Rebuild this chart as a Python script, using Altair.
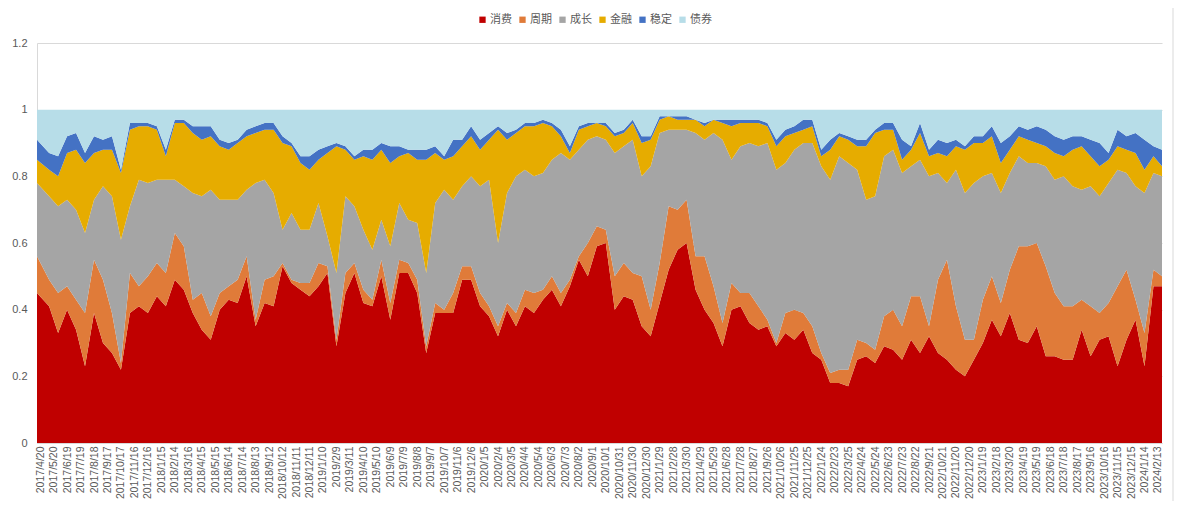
import altair as alt
import pandas as pd

# sampling grid: every 20 days, first and last points at the chart's edges
dates = (["2017/04/13"]
         + [d.strftime("%Y/%m/%d") for d in pd.date_range("2017-04-20", periods=125, freq="20D")][1:]
         + ["2024/02/22"])

series_names = ["消费", "周期", "成长", "金融", "稳定", "债券"]
colors = ["#C00000", "#E07B39", "#A5A5A5", "#E6AC00", "#4472C4", "#B7DDE8"]

consumer = [0.45, 0.41, 0.33, 0.40, 0.34, 0.23, 0.39, 0.30, 0.27, 0.22,
            0.39, 0.41, 0.39, 0.44, 0.41, 0.49, 0.46, 0.39, 0.34, 0.31,
            0.40, 0.43, 0.42, 0.50, 0.35, 0.42, 0.41, 0.53, 0.48, 0.46,
            0.44, 0.47, 0.51, 0.29, 0.45, 0.51, 0.42, 0.41, 0.50, 0.37,
            0.51, 0.51, 0.45, 0.27, 0.39, 0.39, 0.39, 0.49, 0.49, 0.41,
            0.38, 0.32, 0.40, 0.35, 0.41, 0.39, 0.43, 0.46, 0.41, 0.47,
            0.55, 0.50, 0.59, 0.60, 0.40, 0.44, 0.43, 0.35, 0.32, 0.42,
            0.52, 0.58, 0.60, 0.46, 0.40, 0.36, 0.29, 0.40, 0.41, 0.36,
            0.34, 0.35, 0.29, 0.33, 0.31, 0.34, 0.27, 0.25, 0.18, 0.18,
            0.17, 0.25, 0.26, 0.24, 0.29, 0.28, 0.25, 0.31, 0.27, 0.32,
            0.27, 0.25, 0.22, 0.20, 0.25, 0.30, 0.37, 0.32, 0.39, 0.31,
            0.30, 0.35, 0.26, 0.26, 0.25, 0.25, 0.34, 0.26, 0.31, 0.32,
            0.23, 0.31, 0.37, 0.23, 0.47, 0.47]
cyclical = [0.11, 0.08, 0.12, 0.07, 0.09, 0.16, 0.16, 0.19, 0.12, 0.02,
            0.12, 0.06, 0.11, 0.10, 0.10, 0.14, 0.13, 0.04, 0.11, 0.07,
            0.05, 0.04, 0.07, 0.06, 0.02, 0.07, 0.09, 0.01, 0.01, 0.02,
            0.04, 0.07, 0.02, 0.02, 0.06, 0.03, 0.04, 0.02, 0.05, 0.05,
            0.04, 0.03, 0.04, 0.02, 0.03, 0.01, 0.06, 0.04, 0.04, 0.04,
            0.03, 0.03, 0.02, 0.04, 0.05, 0.06, 0.03, 0.04, 0.04, 0.02,
            0.01, 0.10, 0.06, 0.04, 0.10, 0.10, 0.08, 0.15, 0.08, 0.12,
            0.19, 0.12, 0.13, 0.10, 0.16, 0.11, 0.07, 0.08, 0.04, 0.09,
            0.07, 0.02, 0.01, 0.06, 0.09, 0.05, 0.08, 0.02, 0.03, 0.04,
            0.05, 0.06, 0.04, 0.04, 0.09, 0.12, 0.10, 0.13, 0.17, 0.03,
            0.22, 0.30, 0.19, 0.11, 0.06, 0.13, 0.13, 0.10, 0.13, 0.28,
            0.29, 0.25, 0.27, 0.19, 0.16, 0.16, 0.09, 0.15, 0.08, 0.10,
            0.24, 0.21, 0.06, 0.10, 0.05, 0.03]
growth = [0.22, 0.25, 0.26, 0.26, 0.27, 0.24, 0.18, 0.28, 0.35, 0.37,
          0.20, 0.32, 0.28, 0.25, 0.28, 0.16, 0.18, 0.32, 0.29, 0.38,
          0.28, 0.26, 0.24, 0.20, 0.41, 0.30, 0.25, 0.10, 0.20, 0.16,
          0.16, 0.18, 0.09, 0.20, 0.23, 0.17, 0.18, 0.15, 0.12, 0.17,
          0.17, 0.13, 0.17, 0.22, 0.30, 0.36, 0.28, 0.24, 0.27, 0.32,
          0.38, 0.25, 0.33, 0.41, 0.36, 0.35, 0.35, 0.35, 0.42, 0.36,
          0.32, 0.31, 0.27, 0.27, 0.37, 0.35, 0.40, 0.30, 0.43, 0.39,
          0.23, 0.24, 0.21, 0.37, 0.35, 0.46, 0.55, 0.37, 0.44, 0.45,
          0.48, 0.53, 0.52, 0.45, 0.48, 0.51, 0.55, 0.56, 0.58, 0.64,
          0.62, 0.51, 0.43, 0.46, 0.48, 0.48, 0.46, 0.39, 0.41, 0.45,
          0.32, 0.23, 0.41, 0.44, 0.47, 0.37, 0.31, 0.33, 0.29, 0.27,
          0.25, 0.24, 0.30, 0.34, 0.39, 0.36, 0.33, 0.36, 0.35, 0.36,
          0.35, 0.29, 0.34, 0.42, 0.29, 0.30]
financial = [0.07, 0.08, 0.09, 0.14, 0.18, 0.21, 0.14, 0.11, 0.14, 0.20,
             0.23, 0.16, 0.17, 0.15, 0.07, 0.17, 0.19, 0.18, 0.17, 0.16,
             0.16, 0.15, 0.17, 0.16, 0.15, 0.15, 0.19, 0.26, 0.20, 0.20,
             0.18, 0.13, 0.25, 0.38, 0.14, 0.14, 0.22, 0.27, 0.21, 0.25,
             0.14, 0.20, 0.19, 0.34, 0.15, 0.09, 0.13, 0.12, 0.12, 0.11,
             0.12, 0.34, 0.16, 0.13, 0.13, 0.15, 0.15, 0.10, 0.05, 0.02,
             0.06, 0.04, 0.04, 0.04, 0.05, 0.04, 0.05, 0.10, 0.08, 0.04,
             0.04, 0.03, 0.03, 0.04, 0.04, 0.04, 0.05, 0.10, 0.07, 0.06,
             0.07, 0.05, 0.07, 0.08, 0.05, 0.04, 0.05, 0.03, 0.09, 0.06,
             0.07, 0.07, 0.16, 0.19, 0.08, 0.06, 0.04, 0.05, 0.08, 0.06,
             0.06, 0.08, 0.07, 0.13, 0.12, 0.10, 0.11, 0.09, 0.07, 0.06,
             0.07, 0.06, 0.06, 0.08, 0.06, 0.11, 0.13, 0.09, 0.09, 0.07,
             0.07, 0.07, 0.10, 0.07, 0.05, 0.03]
stable = [0.06, 0.05, 0.06, 0.05, 0.05, 0.03, 0.05, 0.03, 0.04, 0.01,
          0.02, 0.01, 0.01, 0.01, 0.02, 0.01, 0.01, 0.02, 0.04, 0.03,
          0.02, 0.02, 0.01, 0.02, 0.02, 0.02, 0.02, 0.02, 0.01, 0.02,
          0.04, 0.03, 0.02, 0.01, 0.01, 0.01, 0.02, 0.03, 0.02, 0.05,
          0.03, 0.01, 0.03, 0.03, 0.02, 0.01, 0.05, 0.02, 0.03, 0.03,
          0.02, 0.01, 0.02, 0.01, 0.01, 0.01, 0.01, 0.01, 0.02, 0.02,
          0.01, 0.01, 0.00, 0.01, 0.01, 0.01, 0.01, 0.02, 0.01, 0.01,
          0.00, 0.01, 0.01, 0.00, 0.01, 0.00, 0.01, 0.02, 0.01, 0.01,
          0.01, 0.01, 0.02, 0.02, 0.02, 0.03, 0.02, 0.02, 0.03, 0.01,
          0.01, 0.02, 0.02, 0.01, 0.02, 0.02, 0.06, 0.01, 0.03, 0.02,
          0.04, 0.04, 0.02, 0.01, 0.02, 0.02, 0.03, 0.06, 0.04, 0.03,
          0.03, 0.05, 0.05, 0.05, 0.05, 0.04, 0.03, 0.05, 0.07, 0.02,
          0.05, 0.04, 0.06, 0.09, 0.03, 0.05]
bond = [0.09, 0.13, 0.14, 0.08, 0.07, 0.13, 0.08, 0.09, 0.08, 0.18,
        0.04, 0.04, 0.04, 0.05, 0.12, 0.03, 0.03, 0.05, 0.05, 0.05,
        0.09, 0.10, 0.09, 0.06, 0.05, 0.04, 0.04, 0.08, 0.10, 0.14,
        0.14, 0.12, 0.11, 0.10, 0.11, 0.14, 0.12, 0.12, 0.10, 0.11,
        0.11, 0.12, 0.12, 0.12, 0.11, 0.14, 0.09, 0.09, 0.05, 0.09,
        0.07, 0.05, 0.07, 0.06, 0.04, 0.04, 0.03, 0.04, 0.06, 0.11,
        0.05, 0.04, 0.04, 0.04, 0.07, 0.06, 0.03, 0.08, 0.08, 0.02,
        0.02, 0.02, 0.02, 0.03, 0.04, 0.03, 0.03, 0.03, 0.03, 0.03,
        0.03, 0.04, 0.09, 0.06, 0.05, 0.03, 0.03, 0.12, 0.09, 0.07,
        0.08, 0.09, 0.09, 0.06, 0.04, 0.04, 0.09, 0.11, 0.04, 0.12,
        0.09, 0.10, 0.09, 0.11, 0.08, 0.08, 0.05, 0.10, 0.08, 0.05,
        0.06, 0.05, 0.06, 0.08, 0.09, 0.08, 0.08, 0.09, 0.10, 0.13,
        0.06, 0.08, 0.07, 0.09, 0.11, 0.12]

tick_dates = pd.date_range("2017-04-20", periods=84, freq="30D")
y_ticks = [0, 0.2, 0.4, 0.6, 0.8, 1, 1.2]

rows = []
for k, (name, vals) in enumerate(zip(series_names,
                                      [consumer, cyclical, growth, financial, stable, bond])):
    for d, v in zip(dates, vals):
        rows.append({"date": d, "series": name, "value": v, "idx": k})
df = pd.DataFrame(rows)

x_axis = alt.Axis(
    values=[alt.DateTime(year=t.year, month=t.month, date=t.day) for t in tick_dates],
    format="%Y/%-m/%-d", labelAngle=270, title=None, grid=False, ticks=False,
    domainColor="#D9D9D9", labelFontSize=10.5, labelColor="#595959",
    labelFont="Liberation Sans", labelPadding=3, labelOverlap=False,
    labelBound=False, labelFlush=False,
)
y_axis = alt.Axis(
    values=y_ticks, format="~g", title=None, ticks=False, grid=True,
    gridColor="#D9D9D9", domainColor="#D9D9D9", labelFontSize=11,
    labelColor="#595959", labelFont="Liberation Sans", labelPadding=10,
)

areas = alt.Chart(df).mark_area(interpolate="linear").encode(
    x=alt.X("date:T", axis=x_axis,
            scale=alt.Scale(domain=[alt.DateTime(year=2017, month=4, date=13),
                                    alt.DateTime(year=2024, month=2, date=22)])),
    y=alt.Y("value:Q", stack="zero", axis=y_axis, scale=alt.Scale(domain=[0, 1.2])),
    color=alt.Color("series:N", scale=alt.Scale(domain=series_names, range=colors),
                    legend=alt.Legend(orient="none", legendX=440, legendY=-29,
                                      direction="horizontal", title=None,
                                      symbolType="square", symbolSize=40,
                                      symbolStrokeWidth=0, labelFontSize=11,
                                      labelColor="#595959",
                                      labelFont="Noto Sans CJK SC",
                                      columnPadding=5, labelOffset=2)),
    order=alt.Order("idx:Q", sort="ascending"),
)

frame = alt.Chart(pd.DataFrame({"k": [0]})).mark_rule(color="#D9D9D9", strokeWidth=1).encode(
    x=alt.value(1136), y=alt.value(-35), y2=alt.value(458)
)

chart = alt.layer(areas, frame).properties(
    width=1125, height=400, autosize="none",
    padding={"left": 29, "top": 35, "right": 14, "bottom": 58},
).configure_view(stroke=None)

chart.save("out.html", embed_options={"renderer": "svg", "actions": False})
